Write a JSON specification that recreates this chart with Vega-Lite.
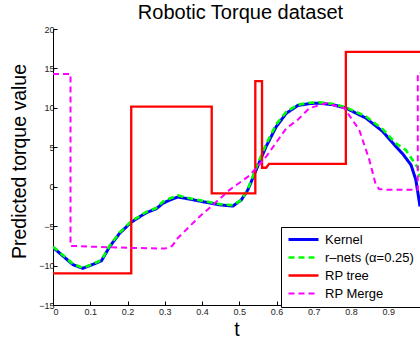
{
"$schema": "https://vega.github.io/schema/vega-lite/v6.json",
"width": 367, "height": 276,
"autosize": {"type": "none"},
"padding": {"left": 53, "top": 29, "right": 0, "bottom": 36},
"background": "white",
"title": {"text": "Robotic Torque dataset", "fontSize": 20, "font": "Liberation Sans", "fontWeight": "normal", "color": "black", "offset": 2, "dx": 4},
"config": {
  "view": {"stroke": null},
  "axis": {"grid": false, "domainColor": "black", "domainWidth": 1, "tickColor": "black", "tickWidth": 1, "tickSize": -4,
    "labelFont": "Liberation Sans", "labelFontSize": 9, "labelColor": "#222222",
    "titleFont": "Liberation Sans", "titleFontSize": 19.5, "titleFontWeight": "normal", "titleColor": "black"}
},
"data": {"values": [
{"series":"Kernel","i":0,"t":0,"value":-7.7},
{"series":"Kernel","i":1,"t":0.027,"value":-8.8},
{"series":"Kernel","i":2,"t":0.054,"value":-9.9},
{"series":"Kernel","i":3,"t":0.08,"value":-10.35},
{"series":"Kernel","i":4,"t":0.107,"value":-9.85},
{"series":"Kernel","i":5,"t":0.13,"value":-9.4},
{"series":"Kernel","i":6,"t":0.152,"value":-7.6},
{"series":"Kernel","i":7,"t":0.179,"value":-5.9},
{"series":"Kernel","i":8,"t":0.21,"value":-4.5},
{"series":"Kernel","i":9,"t":0.25,"value":-3.3},
{"series":"Kernel","i":10,"t":0.277,"value":-2.8},
{"series":"Kernel","i":11,"t":0.295,"value":-2.1},
{"series":"Kernel","i":12,"t":0.313,"value":-1.7},
{"series":"Kernel","i":13,"t":0.335,"value":-1.3},
{"series":"Kernel","i":14,"t":0.37,"value":-1.6},
{"series":"Kernel","i":15,"t":0.402,"value":-1.9},
{"series":"Kernel","i":16,"t":0.447,"value":-2.3},
{"series":"Kernel","i":17,"t":0.483,"value":-2.45},
{"series":"Kernel","i":18,"t":0.505,"value":-1.7},
{"series":"Kernel","i":19,"t":0.523,"value":-0.4},
{"series":"Kernel","i":20,"t":0.545,"value":2.1},
{"series":"Kernel","i":21,"t":0.572,"value":5.1},
{"series":"Kernel","i":22,"t":0.599,"value":7.6},
{"series":"Kernel","i":23,"t":0.626,"value":9.3},
{"series":"Kernel","i":24,"t":0.657,"value":10.3},
{"series":"Kernel","i":25,"t":0.69,"value":10.55},
{"series":"Kernel","i":26,"t":0.715,"value":10.6},
{"series":"Kernel","i":27,"t":0.75,"value":10.4},
{"series":"Kernel","i":28,"t":0.787,"value":9.95},
{"series":"Kernel","i":29,"t":0.84,"value":8.7},
{"series":"Kernel","i":30,"t":0.885,"value":7.0},
{"series":"Kernel","i":31,"t":0.92,"value":5.1},
{"series":"Kernel","i":32,"t":0.938,"value":4.2},
{"series":"Kernel","i":33,"t":0.961,"value":2.75},
{"series":"Kernel","i":34,"t":0.974,"value":0.85},
{"series":"Kernel","i":35,"t":0.985,"value":-2.5},
{"series":"r–nets (α=0.25)","i":0,"t":0,"value":-7.6},
{"series":"r–nets (α=0.25)","i":1,"t":0.027,"value":-8.7},
{"series":"r–nets (α=0.25)","i":2,"t":0.054,"value":-9.8},
{"series":"r–nets (α=0.25)","i":3,"t":0.08,"value":-10.3},
{"series":"r–nets (α=0.25)","i":4,"t":0.107,"value":-9.8},
{"series":"r–nets (α=0.25)","i":5,"t":0.13,"value":-9.3},
{"series":"r–nets (α=0.25)","i":6,"t":0.152,"value":-7.5},
{"series":"r–nets (α=0.25)","i":7,"t":0.179,"value":-5.8},
{"series":"r–nets (α=0.25)","i":8,"t":0.21,"value":-4.4},
{"series":"r–nets (α=0.25)","i":9,"t":0.25,"value":-3.2},
{"series":"r–nets (α=0.25)","i":10,"t":0.277,"value":-2.7},
{"series":"r–nets (α=0.25)","i":11,"t":0.295,"value":-1.9},
{"series":"r–nets (α=0.25)","i":12,"t":0.313,"value":-1.5},
{"series":"r–nets (α=0.25)","i":13,"t":0.335,"value":-1.1},
{"series":"r–nets (α=0.25)","i":14,"t":0.37,"value":-1.5},
{"series":"r–nets (α=0.25)","i":15,"t":0.402,"value":-1.8},
{"series":"r–nets (α=0.25)","i":16,"t":0.447,"value":-2.2},
{"series":"r–nets (α=0.25)","i":17,"t":0.483,"value":-2.35},
{"series":"r–nets (α=0.25)","i":18,"t":0.505,"value":-1.7},
{"series":"r–nets (α=0.25)","i":19,"t":0.523,"value":-0.3},
{"series":"r–nets (α=0.25)","i":20,"t":0.545,"value":2.4},
{"series":"r–nets (α=0.25)","i":21,"t":0.572,"value":5.4},
{"series":"r–nets (α=0.25)","i":22,"t":0.599,"value":7.9},
{"series":"r–nets (α=0.25)","i":23,"t":0.626,"value":9.5},
{"series":"r–nets (α=0.25)","i":24,"t":0.657,"value":10.4},
{"series":"r–nets (α=0.25)","i":25,"t":0.69,"value":10.65},
{"series":"r–nets (α=0.25)","i":26,"t":0.715,"value":10.7},
{"series":"r–nets (α=0.25)","i":27,"t":0.75,"value":10.5},
{"series":"r–nets (α=0.25)","i":28,"t":0.787,"value":10.05},
{"series":"r–nets (α=0.25)","i":29,"t":0.84,"value":8.9},
{"series":"r–nets (α=0.25)","i":30,"t":0.885,"value":7.3},
{"series":"r–nets (α=0.25)","i":31,"t":0.92,"value":5.5},
{"series":"r–nets (α=0.25)","i":32,"t":0.947,"value":4.65},
{"series":"r–nets (α=0.25)","i":33,"t":0.965,"value":3.4},
{"series":"r–nets (α=0.25)","i":34,"t":0.979,"value":2.4},
{"series":"r–nets (α=0.25)","i":35,"t":0.985,"value":1.2},
{"series":"RP tree","i":0,"t":0,"value":-11},
{"series":"RP tree","i":1,"t":0.21,"value":-11},
{"series":"RP tree","i":2,"t":0.21,"value":10.15},
{"series":"RP tree","i":3,"t":0.426,"value":10.15},
{"series":"RP tree","i":4,"t":0.426,"value":-0.85},
{"series":"RP tree","i":5,"t":0.543,"value":-0.85},
{"series":"RP tree","i":6,"t":0.543,"value":13.4},
{"series":"RP tree","i":7,"t":0.561,"value":13.4},
{"series":"RP tree","i":8,"t":0.561,"value":2.4},
{"series":"RP tree","i":9,"t":0.572,"value":2.4},
{"series":"RP tree","i":10,"t":0.58,"value":2.9},
{"series":"RP tree","i":11,"t":0.786,"value":2.9},
{"series":"RP tree","i":12,"t":0.786,"value":17.1},
{"series":"RP tree","i":13,"t":0.985,"value":17.1},
{"series":"RP Merge","i":0,"t":0,"value":14.3},
{"series":"RP Merge","i":1,"t":0.047,"value":14.3},
{"series":"RP Merge","i":2,"t":0.047,"value":-7.5},
{"series":"RP Merge","i":3,"t":0.1,"value":-7.6},
{"series":"RP Merge","i":4,"t":0.2,"value":-7.75},
{"series":"RP Merge","i":5,"t":0.3,"value":-7.85},
{"series":"RP Merge","i":6,"t":0.32,"value":-7.5},
{"series":"RP Merge","i":7,"t":0.335,"value":-6.5},
{"series":"RP Merge","i":8,"t":0.393,"value":-3.8},
{"series":"RP Merge","i":9,"t":0.42,"value":-2.7},
{"series":"RP Merge","i":10,"t":0.474,"value":-0.4},
{"series":"RP Merge","i":11,"t":0.527,"value":1.4},
{"series":"RP Merge","i":12,"t":0.572,"value":3.8},
{"series":"RP Merge","i":13,"t":0.626,"value":7.4},
{"series":"RP Merge","i":14,"t":0.657,"value":8.5},
{"series":"RP Merge","i":15,"t":0.688,"value":9.95},
{"series":"RP Merge","i":16,"t":0.733,"value":10.6},
{"series":"RP Merge","i":17,"t":0.782,"value":9.95},
{"series":"RP Merge","i":18,"t":0.822,"value":7.2},
{"series":"RP Merge","i":19,"t":0.849,"value":3.4},
{"series":"RP Merge","i":20,"t":0.865,"value":0.5},
{"series":"RP Merge","i":21,"t":0.875,"value":-0.3},
{"series":"RP Merge","i":22,"t":0.9,"value":-0.4},
{"series":"RP Merge","i":23,"t":0.979,"value":-0.4},
{"series":"RP Merge","i":24,"t":0.979,"value":14.4},
{"series":"RP Merge","i":25,"t":0.985,"value":14.4}
]},
"mark": {"type": "line", "clip": true, "interpolate": "linear"},
"encoding": {
  "x": {"field": "t", "type": "quantitative", "scale": {"domain": [0, 0.985], "nice": false, "zero": false},
    "axis": {"values": [0, 0.1, 0.2, 0.3, 0.4, 0.5, 0.6, 0.7, 0.8, 0.9], "format": ".1~f", "title": "t", "labelPadding": 6, "titlePadding": 4}},
  "y": {"field": "value", "type": "quantitative", "scale": {"domain": [-15, 20], "nice": false},
    "axis": {"values": [-15, -10, -5, 0, 5, 10, 15, 20], "title": "Predicted torque value", "labelPadding": 3, "titlePadding": 9, "titleY": 132}},
  "color": {"field": "series", "type": "nominal",
    "scale": {"domain": ["Kernel", "r–nets (α=0.25)", "RP tree", "RP Merge"], "range": ["#0000ff", "#00ff00", "#ff0000", "#ff00ff"]},
    "legend": {"title": null, "orient": "none", "legendX": 228, "legendY": 198, "symbolType": "M-3,0H3", "symbolSize": 100,
      "symbolOffset": 10, "labelFontSize": 13, "labelFont": "Liberation Sans", "labelColor": "black", "strokeColor": "black", "fillColor": "white",
      "padding": 6, "rowPadding": 4, "labelOffset": 15}},
  "strokeDash": {"field": "series", "type": "nominal",
    "scale": {"domain": ["Kernel", "r–nets (α=0.25)", "RP tree", "RP Merge"], "range": [[1, 0], [6, 4], [1, 0], [6, 4]]}},
  "strokeWidth": {"field": "series", "type": "nominal",
    "scale": {"domain": ["Kernel", "r–nets (α=0.25)", "RP tree", "RP Merge"], "range": [3, 2, 2, 2]}},
  "order": {"field": "i", "type": "quantitative"}
}
}
